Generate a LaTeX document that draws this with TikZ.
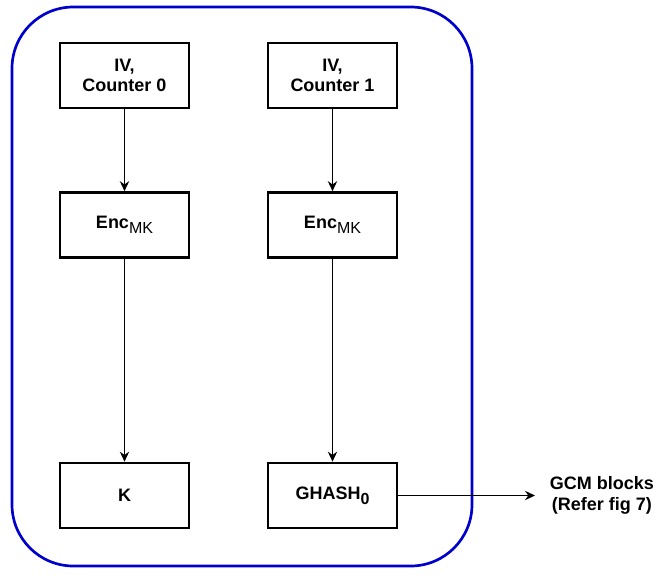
\documentclass[tikz,border=0pt]{standalone}
\usepackage{fontspec}
\setmainfont{Liberation Sans}
\usetikzlibrary{positioning, arrows.meta}

% lowered index, as the drawing tool sets it
\newcommand{\lowidx}[1]{\raisebox{-4pt}{\fontsize{12}{12}\selectfont #1}}

\begin{document}
\begin{tikzpicture}
[
    x=0.75pt, y=-0.75pt, >={Stealth[length=7.5pt, width=7pt, inset=2.5pt]},
    % Blocks are named N-column-row
    % Column 0 is the left chain, column 1 the right chain
]
\useasboundingbox (0,0) rectangle (657,575);

%=================================== Start ===================================
\tikzstyle{blk}   = [draw, line width=2pt, minimum width=96.75pt, minimum height=48.75pt,
                     inner sep=0pt, align=center, font=\bfseries\fontsize{13.5}{15.5}\selectfont]
\tikzstyle{frame} = [draw=blue!80!black, line width=2pt, rounded corners=46pt,
                     minimum width=345pt, minimum height=419.25pt, inner sep=0pt]
\tikzstyle{con}   = [->, line width=1.3pt]
\tikzstyle{lbl}   = [align=center, anchor=west, inner xsep=11pt,
                     font=\bfseries\fontsize{13.5}{15.5}\selectfont]

% Outer frame
\node[frame] (F) at (242,286.5) {};

{
    % Input blocks
    \foreach \x / \c in {124.5/0, 332.5/1}
        \node[blk] (N-\c-0) at (\x,75.5) {IV,\\Counter \c};
    % Encryption blocks
    \foreach \x / \c in {124.5/0, 332.5/1}
        \node[blk] (N-\c-1) at (\x,225) {Enc\lowidx{\mdseries MK}};
    % Results
    \node[blk] (N-0-2) at (124.5,495.5) {K};
    \node[blk] (N-1-2) at (332.5,495.5) {GHASH\lowidx{0}};
    \node[lbl] (out) at (535,495.5) {GCM blocks\\(Refer fig 7)};

    % Connect blocks
    \foreach \c in {0,1}
        \foreach \r / \s in {0/1, 1/2}
            \path (N-\c-\r) edge[con] (N-\c-\s);
    \draw[con] (N-1-2) -- (out);
}
%==================================== END ====================================

\end{tikzpicture}
\end{document}
